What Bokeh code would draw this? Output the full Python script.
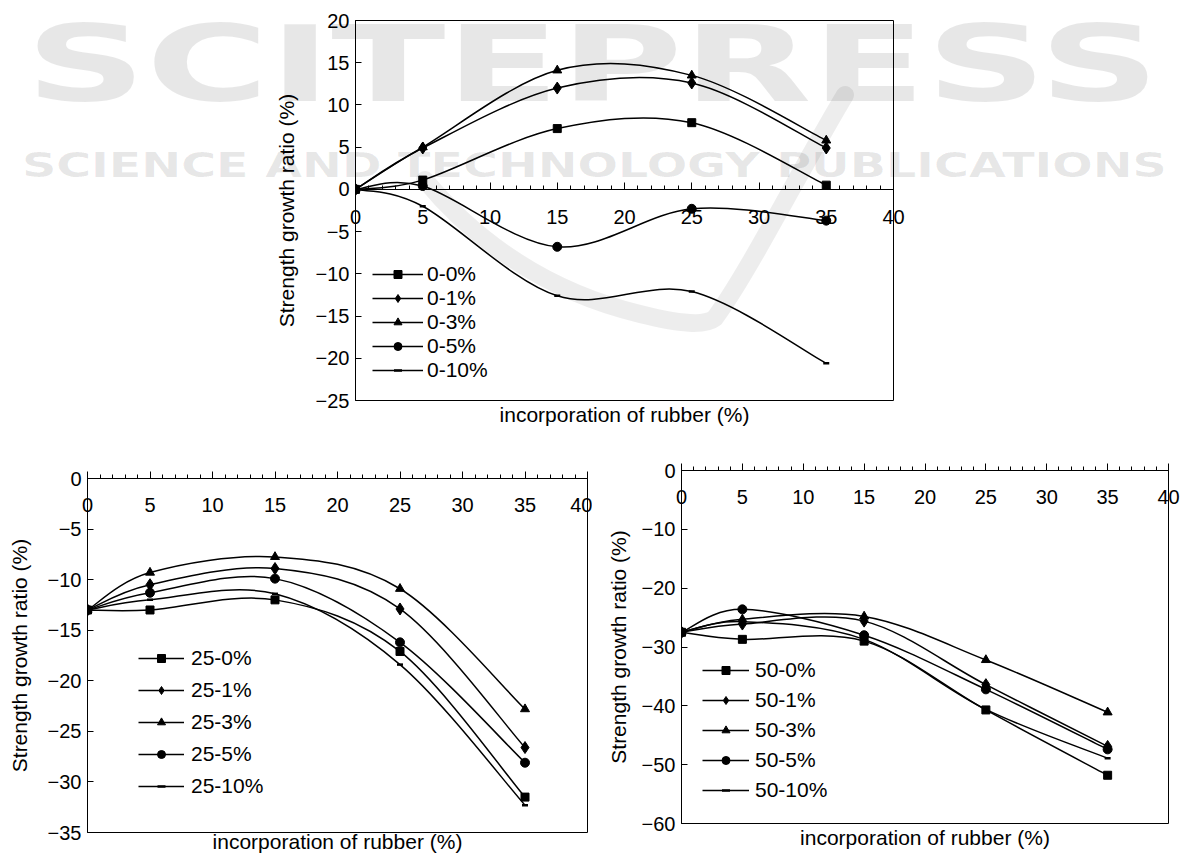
from bokeh.plotting import figure
from bokeh.models import LinearAxis, FixedTicker, Legend, LegendItem, Range1d, Div
from bokeh.layouts import column, row
from bokeh.embed import file_html
from bokeh.resources import INLINE

# ---------------- data ----------------
rubber = [0, 5, 15, 25, 35]

top_names = ["0-0%", "0-1%", "0-3%", "0-5%", "0-10%"]
top_0 = [0.0, 1.1, 7.2, 7.9, 0.5]
top_1 = [0.0, 4.9, 12.0, 12.6, 4.9]
top_3 = [0.0, 5.0, 14.1, 13.5, 5.8]
top_5 = [0.0, 0.4, -6.8, -2.3, -3.7]
top_10 = [0.0, -2.0, -12.6, -12.1, -20.6]

left_names = ["25-0%", "25-1%", "25-3%", "25-5%", "25-10%"]
left_0 = [-13.0, -13.0, -12.0, -17.1, -31.5]
left_1 = [-13.0, -10.5, -8.9, -12.9, -26.6]
left_3 = [-13.0, -9.3, -7.75, -10.9, -22.8]
left_5 = [-13.0, -11.3, -9.9, -16.2, -28.1]
left_10 = [-13.0, -12.0, -11.4, -18.4, -32.3]

right_names = ["50-0%", "50-1%", "50-3%", "50-5%", "50-10%"]
right_0 = [-27.5, -28.7, -29.0, -40.7, -51.8]
right_1 = [-27.5, -26.1, -25.6, -36.4, -46.9]
right_3 = [-27.5, -25.3, -24.8, -32.2, -41.1]
right_5 = [-27.5, -23.6, -28.0, -37.2, -47.4]
right_10 = [-27.5, -25.7, -28.7, -40.6, -48.9]

x_ticks = [0, 5, 10, 15, 20, 25, 30, 35, 40]
x_minor = list(range(0, 41))
top_yticks = [20, 15, 10, 5, 0, -5, -10, -15, -20, -25]
left_yticks = [0, -5, -10, -15, -20, -25, -30, -35]
right_yticks = [0, -10, -20, -30, -40, -50, -60]

markers = ["square", "diamond", "triangle", "circle", "dash"]
marker_sizes = [8, 12, 9, 9, 6]

watermark_big = "SCITEPRESS"
watermark_small = "SCIENCE AND TECHNOLOGY PUBLICATIONS"

FONT = "Liberation Sans"
TICK_FS = "20px"
FS = "21px"


def bezier_source(xs, ys):
    """Excel-like smooth line: cubic Bezier segments through the data points."""
    px = [xs[0]] + list(xs) + [xs[-1]]
    py = [ys[0]] + list(ys) + [ys[-1]]
    d = {k: [] for k in ["x0", "y0", "x1", "y1", "cx0", "cy0", "cx1", "cy1"]}
    for i in range(len(xs) - 1):
        a, b = i + 1, i + 2
        d["x0"].append(px[a]); d["y0"].append(py[a])
        d["x1"].append(px[b]); d["y1"].append(py[b])
        d["cx0"].append(px[a] + (px[b] - px[a - 1]) / 6.0)
        d["cy0"].append(py[a] + (py[b] - py[a - 1]) / 6.0)
        d["cx1"].append(px[b] - (px[b + 1] - px[a]) / 6.0)
        d["cy1"].append(py[b] - (py[b + 1] - py[a]) / 6.0)
    return d


def bare(width, height, borders, yrange):
    bl, br, bt, bb = borders
    p = figure(width=width, height=height, x_range=Range1d(0, 40), y_range=Range1d(*yrange),
               output_backend="svg", toolbar_location=None,
               x_axis_location=None, y_axis_location=None,
               min_border_left=bl, min_border_right=br, min_border_top=bt, min_border_bottom=bb)
    p.grid.visible = False
    p.background_fill_color = None
    p.border_fill_color = None
    return p


def style_x(ax, standoff):
    ax.major_tick_in = 0
    ax.major_tick_out = 0
    ax.minor_tick_in = 0
    ax.minor_tick_out = 0
    ax.axis_line_color = "black"
    ax.major_tick_line_color = "black"
    ax.minor_tick_line_color = "black"
    ax.major_label_text_font = FONT
    ax.major_label_text_font_size = TICK_FS
    ax.major_label_text_color = "black"
    ax.major_label_standoff = standoff


def build(width, height, borders, yrange, yticks, names, series,
          legend_loc, legend_spacing, glyph_w, label_so, ylab_standoff, xlab_standoff,
          x_axis_on_top):
    p = bare(width, height, borders, yrange)
    p.outline_line_color = "black"
    p.outline_line_width = 1
    p.outline_line_alpha = 1

    ya = LinearAxis(ticker=FixedTicker(ticks=yticks, minor_ticks=[]),
                    axis_label="Strength growth ratio (%)")
    ya.major_tick_in = 6
    ya.major_tick_out = 0
    ya.minor_tick_in = 0
    ya.minor_tick_out = 0
    ya.axis_line_color = "black"
    ya.major_tick_line_color = "black"
    ya.major_label_text_font = FONT
    ya.major_label_text_font_size = TICK_FS
    ya.major_label_text_color = "black"
    ya.major_label_standoff = 6
    ya.axis_label_text_font = FONT
    ya.axis_label_text_font_size = FS
    ya.axis_label_text_font_style = "normal"
    ya.axis_label_text_color = "black"
    ya.axis_label_standoff = ylab_standoff
    p.add_layout(ya, "left")

    if x_axis_on_top:
        xa = LinearAxis(ticker=FixedTicker(ticks=x_ticks, minor_ticks=x_minor))
        style_x(xa, -40)
        xa.major_tick_out = 7
        xa.minor_tick_out = 4
        p.add_layout(xa, "above")

    xl = LinearAxis(ticker=FixedTicker(ticks=[], minor_ticks=[]),
                    axis_label="incorporation of rubber (%)")
    xl.axis_line_color = None
    xl.major_tick_line_color = None
    xl.minor_tick_line_color = None
    xl.axis_label_text_font = FONT
    xl.axis_label_text_font_size = FS
    xl.axis_label_text_font_style = "normal"
    xl.axis_label_text_color = "black"
    xl.axis_label_standoff = xlab_standoff
    p.add_layout(xl, "below")

    items = []
    for name, ys, mk, ms in zip(names, series, markers, marker_sizes):
        rl = p.bezier(x0="x0", y0="y0", x1="x1", y1="y1", cx0="cx0", cy0="cy0",
                      cx1="cx1", cy1="cy1", source=bezier_source(rubber, ys),
                      line_color="black", line_width=1.5)
        if mk == "dash":
            rm = p.scatter(rubber, ys, marker=mk, size=ms, line_color="black", line_width=2.5)
        else:
            rm = p.scatter(rubber, ys, marker=mk, size=ms, fill_color="black", line_color="black")
        items.append(LegendItem(label=name, renderers=[rl, rm]))

    leg = Legend(items=items, location=legend_loc, orientation="vertical",
                 spacing=legend_spacing, padding=0, margin=0,
                 border_line_color=None, background_fill_alpha=0,
                 glyph_width=glyph_w, glyph_height=20, label_height=20,
                 label_standoff=label_so, label_text_font=FONT, label_text_font_size=FS,
                 label_text_color="black")
    p.add_layout(leg)
    return p


# --- top chart (frame 355..893 x 20..400) ---
top = build(1184, 430, (355, 291, 20, 30), (-25, 20), top_yticks, top_names,
            [top_0, top_1, top_3, top_5, top_10], (17, 18), 0, 51, 4, 15, 2, False)

# x axis of the top chart, crossing at y = 0 (transparent overlay aligned with the chart)
xo = bare(1184, 80, (355, 291, 20, 40), (0, 1))
xo.outline_line_color = None
xo.margin = (-281, 0, 0, 0)
xax = LinearAxis(ticker=FixedTicker(ticks=x_ticks, minor_ticks=x_minor))
style_x(xax, 20)
xax.major_tick_in = 7
xax.minor_tick_in = 4
xo.add_layout(xax, "below")

# --- bottom charts ---
left = build(592, 425, (87, 5, 48, 21), (-35, 0), left_yticks, left_names,
             [left_0, left_1, left_3, left_5, left_10], (51, 34), 8, 46, 7, 14, -3, True)

right = build(592, 425, (89, 16, 40, 32), (-60, 0), right_yticks, right_names,
              [right_0, right_1, right_3, right_5, right_10], (21, 21), 6, 47, 6, 9, 2, True)

bottom = row(column(left), column(right))
bottom.margin = (201, 0, 0, 0)

# --- faint publisher watermark laid over the page ---
wm_css_big = ("position:absolute;left:0;top:12px;width:1184px;text-align:center;"
              "font-family:'DejaVu Sans';font-weight:bold;font-size:106px;line-height:106px;"
              "white-space:nowrap;color:rgba(0,0,0,0.095);"
              "transform:scaleX(1.58);transform-origin:591px 0;")
wm_css_small = ("position:absolute;left:0;top:148px;width:1184px;text-align:center;"
                "font-family:'DejaVu Sans';font-weight:bold;font-size:34px;line-height:34px;"
                "white-space:nowrap;color:rgba(0,0,0,0.095);"
                "transform:scaleX(1.40);transform-origin:586px 0;")
wm_swoosh = ('<svg width="1184" height="420" style="position:absolute;left:0;top:0;">'
             '<path d="M 425 180 C 470 235, 540 290, 640 314 C 680 324, 705 326, 715 318 '
             'C 750 270, 800 170, 845 95" fill="none" stroke="rgba(0,0,0,0.07)" '
             'stroke-width="18" stroke-linecap="round"/></svg>')
wm = Div(width=1184, height=190,
         text=(f'<div style="position:relative;width:1184px;height:190px;pointer-events:none;">'
               f'{wm_swoosh}'
               f'<div style="{wm_css_big}">{watermark_big}</div>'
               f'<div style="{wm_css_small}">{watermark_small}</div></div>'))
wm.margin = (-855, 0, 0, 0)

layout = column(top, xo, bottom, wm)
open("out.html", "w").write(file_html(layout, INLINE))
